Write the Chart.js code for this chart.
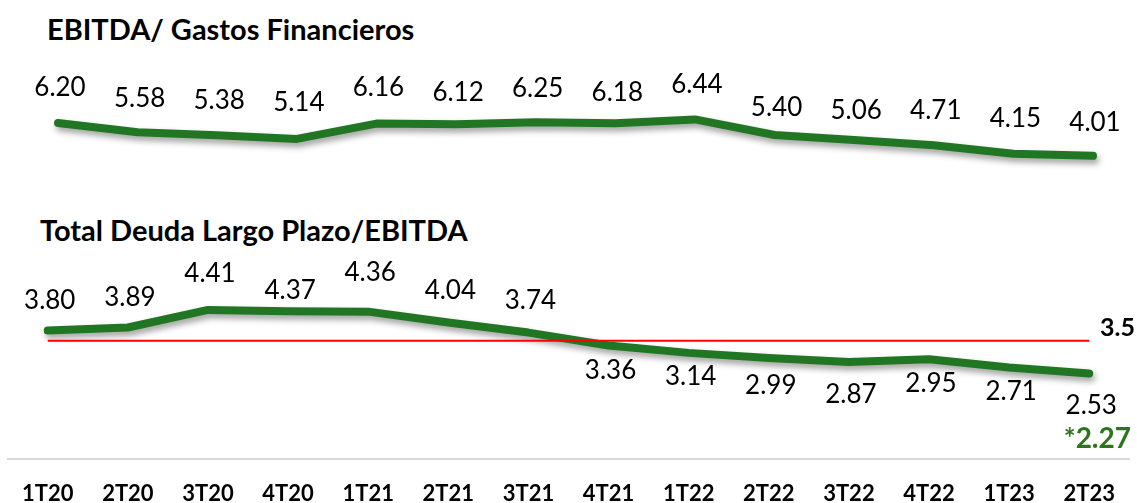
<!DOCTYPE html>
<html lang="es">
<head>
<meta charset="UTF-8">
<title>EBITDA/ Gastos Financieros - Total Deuda Largo Plazo/EBITDA</title>
<script src="https://cdn.jsdelivr.net/npm/chart.js"></script>
<style>
    html, body { margin: 0; padding: 0; background: #fff; }
    .lienzo { position: relative; width: 1137px; height: 503px; overflow: hidden; }
    .titulo {
        position: absolute;
        font-family: Lato, "Open Sans", sans-serif;
        font-weight: bold;
        font-size: 29px;
        line-height: 1;
        color: #000;
        white-space: nowrap;
    }
    .caja { position: absolute; left: 0; width: 1137px; }
</style>
</head>
<body>
<div class="lienzo">
    <div class="titulo" style="left:47px; top:14px;">EBITDA/ Gastos Financieros</div>
    <div class="titulo" style="left:40px; top:215px;">Total Deuda Largo Plazo/EBITDA</div>
    <div class="caja" style="top:0; height:190px;"><canvas id="graficoArriba"></canvas></div>
    <div class="caja" style="top:190px; height:313px;"><canvas id="graficoAbajo"></canvas></div>
</div>

<script>
    // datos
    const trimestres = ["1T20", "2T20", "3T20", "4T20", "1T21", "2T21", "3T21", "4T21", "1T22", "2T22", "3T22", "4T22", "1T23", "2T23"];
    const ebitdaGastosFin = [6.20, 5.58, 5.38, 5.14, 6.16, 6.12, 6.25, 6.18, 6.44, 5.40, 5.06, 4.71, 4.15, 4.01];
    const deudaLargoEbitda = [3.80, 3.89, 4.41, 4.37, 4.36, 4.04, 3.74, 3.36, 3.14, 2.99, 2.87, 2.95, 2.71, 2.53];
    const limiteDeuda = 3.5;
    const deudaAjustada = 2.27;

    // desplazamiento vertical de cada etiqueta respecto a su punto (px)
    const despArriba = [-35, -34, -35, -36, -36, -32, -34, -31, -35, -27, -29, -35, -35, -33];
    const despAbajo = [-30, -30, -36, -21, -39, -32, -32, 25, 24, 28, 33, 24, 24, 32];

    const VERDE = "#217623";

    // sombra suave bajo la linea verde
    const sombra = {
        id: "sombra",
        beforeDatasetDraw(chart, args) {
            if (args.index !== 0) return;
            const ctx = chart.ctx;
            ctx.save();
            ctx.shadowColor = "rgba(0,0,0,0.38)";
            ctx.shadowBlur = 6;
            ctx.shadowOffsetX = 2;
            ctx.shadowOffsetY = 4;
        },
        afterDatasetDraw(chart, args) {
            if (args.index !== 0) return;
            chart.ctx.restore();
        }
    };

    // etiquetas de valor sobre/bajo cada punto
    const etiquetas = {
        id: "etiquetas",
        afterDatasetsDraw(chart, args, opts) {
            const ctx = chart.ctx;
            const meta = chart.getDatasetMeta(0);
            const valores = chart.data.datasets[0].data;
            ctx.save();
            ctx.font = "26px Lato";
            ctx.fillStyle = "#000";
            ctx.textAlign = "center";
            ctx.textBaseline = "middle";
            meta.data.forEach((pt, i) => {
                ctx.fillText(valores[i].toFixed(2), pt.x + 2, pt.y + opts.desp[i]);
            });
            ctx.restore();
        }
    };

    // texto "3.5" y "*2.27" a la derecha del grafico de deuda
    const notas = {
        id: "notas",
        afterDatasetsDraw(chart) {
            const ctx = chart.ctx;
            const y = chart.scales.y;
            const ultimo = chart.getDatasetMeta(0).data[trimestres.length - 1];
            ctx.save();
            ctx.textAlign = "right";
            ctx.textBaseline = "middle";
            ctx.font = "bold 25px Lato";
            ctx.fillStyle = "#000";
            ctx.fillText(String(limiteDeuda), 1135, y.getPixelForValue(limiteDeuda) - 13);
            ctx.fillStyle = "#2f731c";
            ctx.font = "bold 28px Lato";
            ctx.fillText("*" + deudaAjustada.toFixed(2), 1131, ultimo.y + 65);
            ctx.restore();
        }
    };

    const lineaVerde = {
        borderColor: VERDE,
        borderWidth: 8,
        borderCapStyle: "round",
        borderJoinStyle: "round",
        pointRadius: 0,
        tension: 0,
        clip: false
    };

    new Chart(document.getElementById("graficoArriba"), {
        type: "line",
        data: {
            labels: trimestres,
            datasets: [Object.assign({ label: "EBITDA/ Gastos Financieros", data: ebitdaGastosFin }, lineaVerde)]
        },
        options: {
            responsive: true,
            maintainAspectRatio: false,
            animation: false,
            layout: { padding: { left: 58, right: 44, top: 111, bottom: 19 } },
            plugins: { legend: { display: false }, tooltip: { enabled: false }, etiquetas: { desp: despArriba } },
            scales: {
                x: { display: false },
                y: { display: false, min: 3, max: 7 }
            }
        },
        plugins: [sombra, etiquetas]
    });

    new Chart(document.getElementById("graficoAbajo"), {
        type: "line",
        data: {
            labels: trimestres,
            datasets: [
                Object.assign({ label: "Total Deuda Largo Plazo/EBITDA", data: deudaLargoEbitda, order: 1 }, lineaVerde),
                {
                    label: "Límite",
                    data: trimestres.map(() => limiteDeuda),
                    borderColor: "#ff0000",
                    borderWidth: 2,
                    pointRadius: 0,
                    order: 0
                }
            ]
        },
        options: {
            responsive: true,
            maintainAspectRatio: false,
            animation: false,
            layout: { padding: { left: 6.7, right: 1.7, top: 100, bottom: 0 } },
            plugins: { legend: { display: false }, tooltip: { enabled: false }, etiquetas: { desp: despAbajo } },
            scales: {
                x: {
                    offset: true,
                    grid: { display: false, drawTicks: false },
                    border: { display: true, color: "#d9d9d9", width: 2 },
                    ticks: { color: "#000", padding: 22, font: { family: "Lato", size: 22, weight: "bold" } },
                    afterFit(scale) { scale.height = 44; }
                },
                y: { display: false, min: 0, max: 5 }
            }
        },
        plugins: [sombra, etiquetas, notas]
    });
</script>
</body>
</html>
